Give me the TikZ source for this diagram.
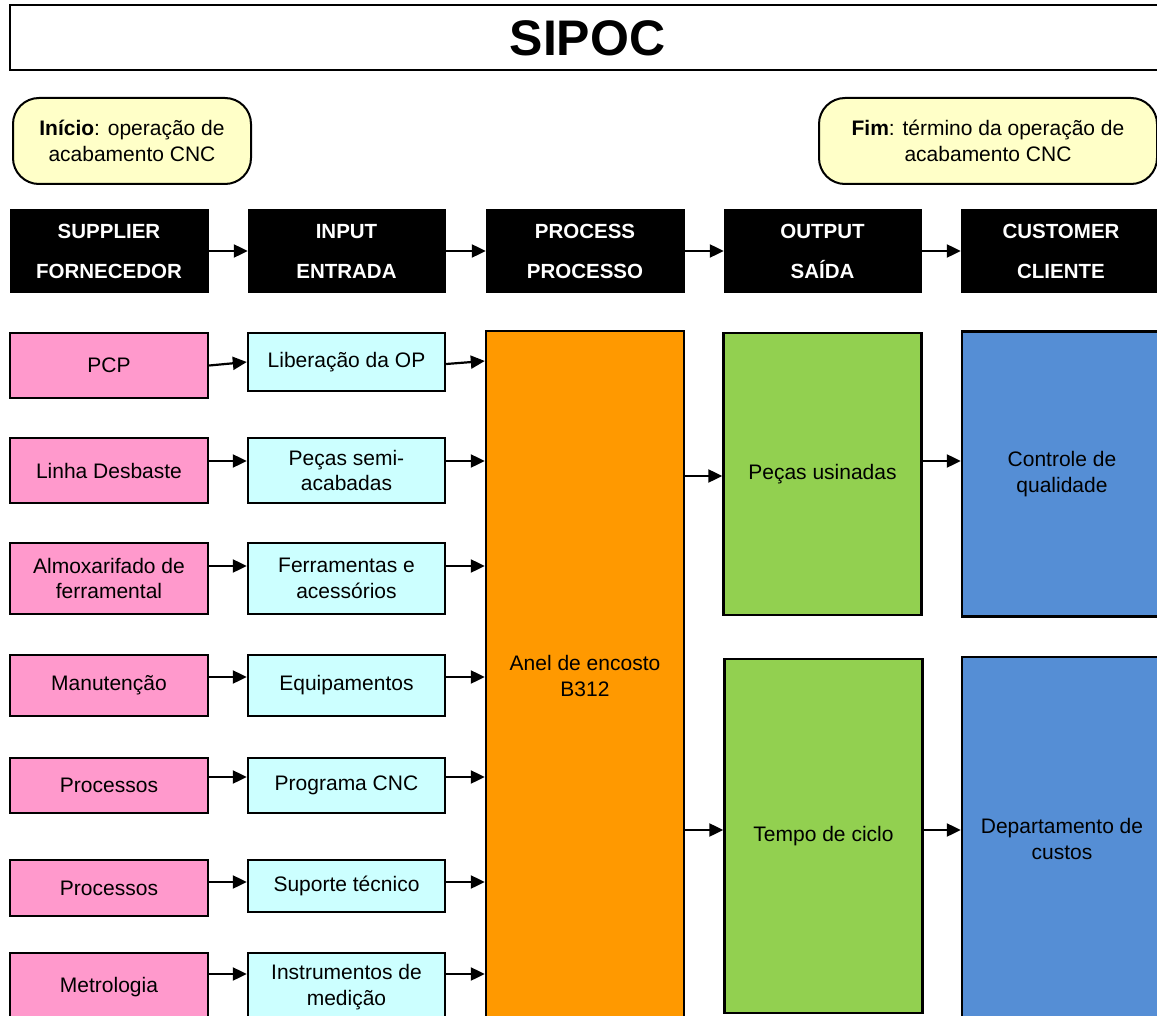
\documentclass[tikz,border=0pt]{standalone}
\usepackage{fontspec}
\setmainfont{Liberation Sans}
\usetikzlibrary{arrows.meta}

\definecolor{supfill}{HTML}{FF99CC}
\definecolor{inpfill}{HTML}{CCFFFF}
\definecolor{procfill}{HTML}{FF9900}
\definecolor{outfill}{HTML}{92D050}
\definecolor{custfill}{HTML}{558ED5}
\definecolor{notefill}{HTML}{FFFFC8}

\tikzset{
  box/.style={draw=black, line width=2.4pt, rectangle, align=center,
    inner sep=0pt, font=\fontsize{21}{25.5}\selectfont, text=black},
  supbox/.style={box, fill=supfill, minimum width=198pt},
  inpbox/.style={box, fill=inpfill, minimum width=197pt},
  procbox/.style={box, fill=procfill, minimum width=198pt},
  outbox/.style={box, fill=outfill, minimum width=198pt},
  custbox/.style={box, fill=custfill, minimum width=200pt},
  headbox/.style={rectangle, fill=black, draw=black, text=white, align=center,
    inner sep=0pt, minimum height=83pt,
    font=\fontsize{20.5}{40}\selectfont\bfseries},
  notebox/.style={box, fill=notefill, rounded corners=26pt, line width=2pt},
  arr/.style={line width=2.2pt, -{Triangle[length=14pt,width=13pt]}},
}

\begin{document}
\begin{tikzpicture}[x=1pt,y=-1pt]
\useasboundingbox (0,0) rectangle (1157,1016);
\clip (0,0) rectangle (1157,1016);

% title bar
\node[draw=black, line width=2pt, minimum width=1155pt, minimum height=65pt,
  inner sep=0pt, font=\fontsize{50}{50}\selectfont\bfseries]
  (title) at (587.5,38) {SIPOC};

% start / end notes
\node[notebox, minimum width=238pt, minimum height=86pt] (start) at (132,141)
  {\textbf{Início}: operação de\\acabamento CNC};
\node[notebox, minimum width=338pt, minimum height=86pt] (finish) at (988,141)
  {\textbf{Fim}: término da operação de\\acabamento CNC};

% column headers
\node[headbox, minimum width=198pt] (hS) at (109,251) {SUPPLIER\\FORNECEDOR};
\node[headbox, minimum width=197pt] (hI) at (346.5,251) {INPUT\\ENTRADA};
\node[headbox, minimum width=198pt] (hP) at (585,251) {PROCESS\\PROCESSO};
\node[headbox, minimum width=197pt] (hO) at (822.5,251) {OUTPUT\\SAÍDA};
\node[headbox, minimum width=200pt] (hC) at (1061,251) {CUSTOMER\\CLIENTE};

\draw[arr] (hS.east) -- (hI.west);
\draw[arr] (hI.east) -- (hP.west);
\draw[arr] (hP.east) -- (hO.west);
\draw[arr] (hO.east) -- (hC.west);

% suppliers
\node[supbox, minimum height=65pt] (s1) at (109,365.5) {PCP};
\node[supbox, minimum height=65pt] (s2) at (109,470.5) {Linha Desbaste};
\node[supbox, minimum height=71pt] (s3) at (109,578.5) {Almoxarifado de\\ferramental};
\node[supbox, minimum height=61pt] (s4) at (109,685.5) {Manutenção};
\node[supbox, minimum height=55pt] (s5) at (109,785.5) {Processos};
\node[supbox, minimum height=56pt] (s6) at (109,888) {Processos};
\node[supbox, minimum height=68pt] (s7) at (109,987) {Metrologia};

% inputs
\node[inpbox, minimum height=58pt] (i1) at (346.5,362) {Liberação da OP};
\node[inpbox, minimum height=65pt] (i2) at (346.5,470.5) {Peças semi-\\acabadas};
\node[inpbox, minimum height=71pt] (i3) at (346.5,578.5) {Ferramentas e\\acessórios};
\node[inpbox, minimum height=61pt] (i4) at (346.5,685.5) {Equipamentos};
\node[inpbox, minimum height=55pt] (i5) at (346.5,785.5) {Programa CNC};
\node[inpbox, minimum height=52pt] (i6) at (346.5,886) {Suporte técnico};
\node[inpbox, minimum height=68pt] (i7) at (346.5,987) {Instrumentos de\\medição};

% process
\node[procbox, minimum height=690pt] (p) at (585,676) {Anel de encosto\\B312};

% outputs
\node[outbox, minimum height=282pt] (o1) at (822.5,474) {Peças usinadas};
\node[outbox, minimum height=354pt] (o2) at (823.5,836) {Tempo de ciclo};

% customers
\node[custbox, minimum height=285pt] (c1) at (1062,474) {Controle de\\qualidade};
\node[custbox, minimum height=364pt] (c2) at (1062,839) {Departamento de\\custos};

% supplier -> input
\draw[arr] (s1.east) -- (i1.west);
\draw[arr] (s2.east |- 0,461) -- (i2.west |- 0,461);
\draw[arr] (s3.east |- 0,566) -- (i3.west |- 0,566);
\draw[arr] (s4.east |- 0,677) -- (i4.west |- 0,677);
\draw[arr] (s5.east |- 0,777) -- (i5.west |- 0,777);
\draw[arr] (s6.east |- 0,882) -- (i6.west |- 0,882);
\draw[arr] (s7.east |- 0,974) -- (i7.west |- 0,974);

% input -> process
\draw[arr] (i1.east |- 0,364) -- (p.west |- 0,361);
\draw[arr] (i2.east |- 0,461) -- (p.west |- 0,461);
\draw[arr] (i3.east |- 0,566) -- (p.west |- 0,566);
\draw[arr] (i4.east |- 0,677) -- (p.west |- 0,677);
\draw[arr] (i5.east |- 0,777) -- (p.west |- 0,777);
\draw[arr] (i6.east |- 0,882) -- (p.west |- 0,882);
\draw[arr] (i7.east |- 0,974) -- (p.west |- 0,974);

% process -> outputs
\draw[arr] (p.east |- 0,476) -- (o1.west |- 0,476);
\draw[arr] (p.east |- 0,830) -- (o2.west |- 0,830);

% outputs -> customers
\draw[arr] (o1.east |- 0,461) -- (c1.west |- 0,461);
\draw[arr] (o2.east |- 0,830) -- (c2.west |- 0,830);
\end{tikzpicture}
\end{document}
